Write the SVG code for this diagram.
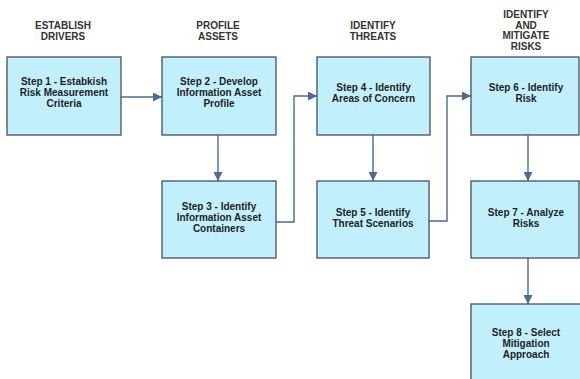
<svg xmlns="http://www.w3.org/2000/svg" width="580" height="379" viewBox="0 0 580 379">
<defs>
<style>
.box{fill:#c2effc;stroke:#44505e;stroke-width:1.3}
.t{font-family:"Liberation Sans",Arial,sans-serif;font-weight:bold;font-size:10px;fill:#1e1e1e;text-anchor:middle}
.h{font-family:"Liberation Sans",Arial,sans-serif;font-weight:bold;font-size:10px;fill:#333;text-anchor:middle}
.c{fill:none;stroke:#4a6a9c;stroke-width:1.4}
</style>
<marker id="ah" viewBox="0 0 10 10" refX="10" refY="5" markerWidth="10" markerHeight="9" markerUnits="userSpaceOnUse" orient="auto">
<path d="M0,0 L10,5 L0,10 Z" fill="#4a6a9c"/>
</marker>
</defs>
<rect width="580" height="379" fill="#fff"/>
<g id="headers">
<text class="h" x="63" y="29">ESTABLISH</text>
<text class="h" x="63" y="40">DRIVERS</text>
<text class="h" x="218" y="29">PROFILE</text>
<text class="h" x="218" y="40">ASSETS</text>
<text class="h" x="373" y="29">IDENTIFY</text>
<text class="h" x="373" y="40">THREATS</text>
<text class="h" x="526" y="18">IDENTIFY</text>
<text class="h" x="526" y="28.5">AND</text>
<text class="h" x="526" y="39">MITIGATE</text>
<text class="h" x="526" y="49.5">RISKS</text>
</g>
<g id="connectors">
<path class="c" d="M121,97 H162" marker-end="url(#ah)"/>
<path class="c" d="M218,135 V181" marker-end="url(#ah)"/>
<path class="c" d="M276,222 H294 V96 H317" marker-end="url(#ah)"/>
<path class="c" d="M373,135 V181" marker-end="url(#ah)"/>
<path class="c" d="M429,221 H447 V96 H471" marker-end="url(#ah)"/>
<path class="c" d="M528,135 V181" marker-end="url(#ah)"/>
<path class="c" d="M528,258 V304" marker-end="url(#ah)"/>
</g>
<g id="step1"><rect class="box" x="7" y="57" width="114" height="78"/>
<text class="t" x="64" y="85">Step 1 - Estabkish</text>
<text class="t" x="64" y="96">Risk Measurement</text>
<text class="t" x="64" y="107">Criteria</text></g>
<g id="step2"><rect class="box" x="162" y="57" width="114" height="78"/>
<text class="t" x="219" y="85">Step 2 - Develop</text>
<text class="t" x="219" y="96">Information Asset</text>
<text class="t" x="219" y="107">Profile</text></g>
<g id="step3"><rect class="box" x="162" y="181" width="114" height="77"/>
<text class="t" x="219" y="210">Step 3 - Identify</text>
<text class="t" x="219" y="221">Information Asset</text>
<text class="t" x="219" y="232">Containers</text></g>
<g id="step4"><rect class="box" x="317" y="57" width="113" height="78"/>
<text class="t" x="373.5" y="91">Step 4 - Identify</text>
<text class="t" x="373.5" y="102">Areas of Concern</text></g>
<g id="step5"><rect class="box" x="317" y="181" width="112" height="77"/>
<text class="t" x="373" y="215.5">Step 5 - Identify</text>
<text class="t" x="373" y="226.5">Threat Scenarios</text></g>
<g id="step6"><rect class="box" x="471" y="57" width="108" height="78"/>
<text class="t" x="526" y="91">Step 6 - Identify</text>
<text class="t" x="526" y="102">Risk</text></g>
<g id="step7"><rect class="box" x="471" y="181" width="108" height="77"/>
<text class="t" x="526" y="215.5">Step 7 - Analyze</text>
<text class="t" x="526" y="226.5">Risks</text></g>
<g id="step8"><rect class="box" x="471" y="304" width="118" height="90"/>
<text class="t" x="526" y="336">Step 8 - Select</text>
<text class="t" x="526" y="347">Mitigation</text>
<text class="t" x="526" y="358">Approach</text></g>
</svg>
